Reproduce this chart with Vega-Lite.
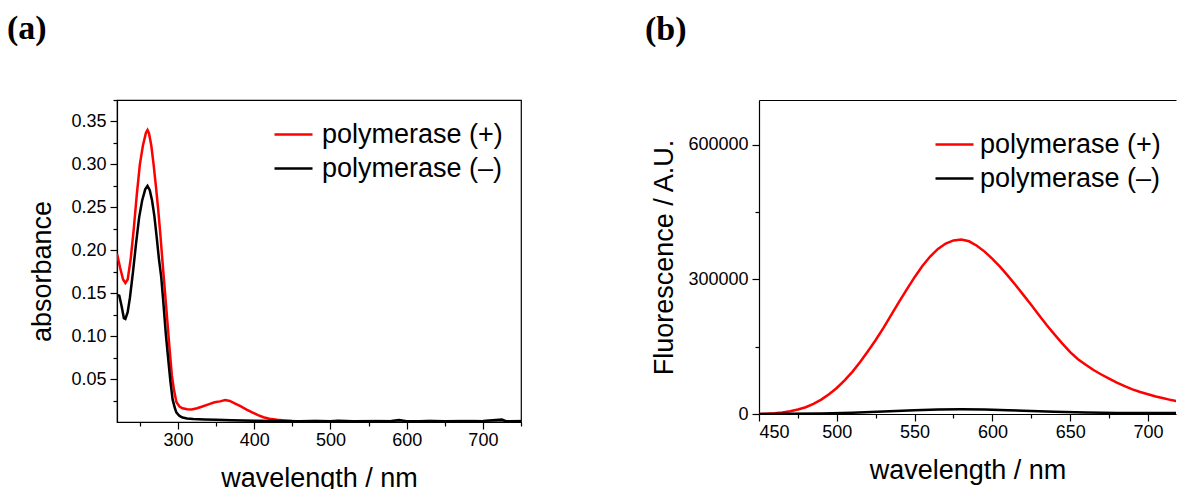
{
  "$schema": "https://vega.github.io/schema/vega-lite/v6.json",
  "padding": {"left": 6, "top": 11, "right": 0, "bottom": 0},
  "spacing": 121,
  "config": {
    "font": "Liberation Sans",
    "view": {"stroke": "black", "strokeWidth": 1.2},
    "axis": {
      "grid": false,
      "domainColor": "black",
      "domainWidth": 1.2,
      "tickColor": "black",
      "tickWidth": 1.2,
      "tickSize": 7,
      "labelColor": "black",
      "labelFont": "Liberation Sans",
      "labelFontSize": 18,
      "titleColor": "black",
      "titleFont": "Liberation Sans",
      "titleFontSize": 27,
      "titleFontWeight": "normal"
    },
    "axisX": {"labelPadding": 2, "titlePadding": 16},
    "axisY": {"labelPadding": 4},
    "legend": {
      "orient": "none",
      "title": null,
      "symbolType": "stroke",
      "symbolSize": 1444,
      "symbolStrokeWidth": 2.5,
      "labelFont": "Liberation Sans",
      "labelFontSize": 27,
      "labelColor": "black",
      "labelLimit": 0,
      "padding": 0,
      "rowPadding": -4
    },
    "title": {
      "font": "Liberation Serif",
      "fontSize": 34,
      "fontWeight": "bold",
      "color": "black",
      "anchor": "start",
      "frame": "bounds",
      "baseline": "alphabetic",
      "offset": 53
    }
  },
  "resolve": {"scale": {"color": "independent"}, "legend": {"color": "independent"}},
  "hconcat": [
    {
      "title": {"text": "(a)", "dx": -22},
      "width": 404,
      "height": 322,
      "data": {"values": [
        {"wl": 220, "v": 0.196, "s": "polymerase (+)"},
        {"wl": 224, "v": 0.180, "s": "polymerase (+)"},
        {"wl": 228, "v": 0.166, "s": "polymerase (+)"},
        {"wl": 231, "v": 0.162, "s": "polymerase (+)"},
        {"wl": 234, "v": 0.166, "s": "polymerase (+)"},
        {"wl": 238, "v": 0.190, "s": "polymerase (+)"},
        {"wl": 242, "v": 0.225, "s": "polymerase (+)"},
        {"wl": 246, "v": 0.265, "s": "polymerase (+)"},
        {"wl": 250, "v": 0.300, "s": "polymerase (+)"},
        {"wl": 254, "v": 0.322, "s": "polymerase (+)"},
        {"wl": 258, "v": 0.337, "s": "polymerase (+)"},
        {"wl": 260, "v": 0.340, "s": "polymerase (+)"},
        {"wl": 262, "v": 0.336, "s": "polymerase (+)"},
        {"wl": 265, "v": 0.322, "s": "polymerase (+)"},
        {"wl": 268, "v": 0.300, "s": "polymerase (+)"},
        {"wl": 271, "v": 0.275, "s": "polymerase (+)"},
        {"wl": 274, "v": 0.248, "s": "polymerase (+)"},
        {"wl": 277, "v": 0.217, "s": "polymerase (+)"},
        {"wl": 280, "v": 0.183, "s": "polymerase (+)"},
        {"wl": 283, "v": 0.151, "s": "polymerase (+)"},
        {"wl": 286, "v": 0.118, "s": "polymerase (+)"},
        {"wl": 289, "v": 0.085, "s": "polymerase (+)"},
        {"wl": 292, "v": 0.054, "s": "polymerase (+)"},
        {"wl": 295, "v": 0.036, "s": "polymerase (+)"},
        {"wl": 298, "v": 0.023, "s": "polymerase (+)"},
        {"wl": 302, "v": 0.018, "s": "polymerase (+)"},
        {"wl": 306, "v": 0.016, "s": "polymerase (+)"},
        {"wl": 312, "v": 0.0148, "s": "polymerase (+)"},
        {"wl": 318, "v": 0.0146, "s": "polymerase (+)"},
        {"wl": 325, "v": 0.016, "s": "polymerase (+)"},
        {"wl": 332, "v": 0.018, "s": "polymerase (+)"},
        {"wl": 340, "v": 0.0205, "s": "polymerase (+)"},
        {"wl": 348, "v": 0.023, "s": "polymerase (+)"},
        {"wl": 355, "v": 0.024, "s": "polymerase (+)"},
        {"wl": 362, "v": 0.0255, "s": "polymerase (+)"},
        {"wl": 368, "v": 0.0245, "s": "polymerase (+)"},
        {"wl": 375, "v": 0.0215, "s": "polymerase (+)"},
        {"wl": 382, "v": 0.0185, "s": "polymerase (+)"},
        {"wl": 390, "v": 0.0145, "s": "polymerase (+)"},
        {"wl": 398, "v": 0.011, "s": "polymerase (+)"},
        {"wl": 405, "v": 0.008, "s": "polymerase (+)"},
        {"wl": 412, "v": 0.0055, "s": "polymerase (+)"},
        {"wl": 420, "v": 0.0038, "s": "polymerase (+)"},
        {"wl": 430, "v": 0.0025, "s": "polymerase (+)"},
        {"wl": 440, "v": 0.0018, "s": "polymerase (+)"},
        {"wl": 450, "v": 0.0012, "s": "polymerase (+)"},
        {"wl": 460, "v": 0.001, "s": "polymerase (+)"},
        {"wl": 480, "v": 0.0014, "s": "polymerase (+)"},
        {"wl": 500, "v": 0.0008, "s": "polymerase (+)"},
        {"wl": 510, "v": 0.0016, "s": "polymerase (+)"},
        {"wl": 530, "v": 0.0009, "s": "polymerase (+)"},
        {"wl": 560, "v": 0.0012, "s": "polymerase (+)"},
        {"wl": 590, "v": 0.001, "s": "polymerase (+)"},
        {"wl": 610, "v": 0.0005, "s": "polymerase (+)"},
        {"wl": 630, "v": 0.0014, "s": "polymerase (+)"},
        {"wl": 650, "v": 0.0008, "s": "polymerase (+)"},
        {"wl": 670, "v": 0.0013, "s": "polymerase (+)"},
        {"wl": 690, "v": 0.0011, "s": "polymerase (+)"},
        {"wl": 700, "v": 0.0009, "s": "polymerase (+)"},
        {"wl": 720, "v": 0.0012, "s": "polymerase (+)"},
        {"wl": 735, "v": 0.001, "s": "polymerase (+)"},
        {"wl": 750, "v": 0.0012, "s": "polymerase (+)"},
        {"wl": 220, "v": 0.148, "s": "polymerase (–)"},
        {"wl": 223, "v": 0.147, "s": "polymerase (–)"},
        {"wl": 226, "v": 0.135, "s": "polymerase (–)"},
        {"wl": 229, "v": 0.121, "s": "polymerase (–)"},
        {"wl": 231, "v": 0.12, "s": "polymerase (–)"},
        {"wl": 234, "v": 0.128, "s": "polymerase (–)"},
        {"wl": 237, "v": 0.145, "s": "polymerase (–)"},
        {"wl": 241, "v": 0.175, "s": "polymerase (–)"},
        {"wl": 245, "v": 0.208, "s": "polymerase (–)"},
        {"wl": 249, "v": 0.238, "s": "polymerase (–)"},
        {"wl": 253, "v": 0.258, "s": "polymerase (–)"},
        {"wl": 257, "v": 0.271, "s": "polymerase (–)"},
        {"wl": 260, "v": 0.275, "s": "polymerase (–)"},
        {"wl": 263, "v": 0.27, "s": "polymerase (–)"},
        {"wl": 266, "v": 0.258, "s": "polymerase (–)"},
        {"wl": 269, "v": 0.24, "s": "polymerase (–)"},
        {"wl": 272, "v": 0.216, "s": "polymerase (–)"},
        {"wl": 275, "v": 0.19, "s": "polymerase (–)"},
        {"wl": 278, "v": 0.169, "s": "polymerase (–)"},
        {"wl": 281, "v": 0.137, "s": "polymerase (–)"},
        {"wl": 284, "v": 0.103, "s": "polymerase (–)"},
        {"wl": 287, "v": 0.075, "s": "polymerase (–)"},
        {"wl": 290, "v": 0.048, "s": "polymerase (–)"},
        {"wl": 293, "v": 0.026, "s": "polymerase (–)"},
        {"wl": 296, "v": 0.016, "s": "polymerase (–)"},
        {"wl": 298, "v": 0.011, "s": "polymerase (–)"},
        {"wl": 302, "v": 0.007, "s": "polymerase (–)"},
        {"wl": 306, "v": 0.0052, "s": "polymerase (–)"},
        {"wl": 312, "v": 0.0042, "s": "polymerase (–)"},
        {"wl": 320, "v": 0.0035, "s": "polymerase (–)"},
        {"wl": 335, "v": 0.003, "s": "polymerase (–)"},
        {"wl": 350, "v": 0.0025, "s": "polymerase (–)"},
        {"wl": 370, "v": 0.002, "s": "polymerase (–)"},
        {"wl": 400, "v": 0.0015, "s": "polymerase (–)"},
        {"wl": 430, "v": 0.0012, "s": "polymerase (–)"},
        {"wl": 460, "v": 0.001, "s": "polymerase (–)"},
        {"wl": 500, "v": 0.0009, "s": "polymerase (–)"},
        {"wl": 540, "v": 0.0008, "s": "polymerase (–)"},
        {"wl": 580, "v": 0.0012, "s": "polymerase (–)"},
        {"wl": 590, "v": 0.0022, "s": "polymerase (–)"},
        {"wl": 600, "v": 0.001, "s": "polymerase (–)"},
        {"wl": 640, "v": 0.0008, "s": "polymerase (–)"},
        {"wl": 680, "v": 0.001, "s": "polymerase (–)"},
        {"wl": 700, "v": 0.0012, "s": "polymerase (–)"},
        {"wl": 725, "v": 0.0028, "s": "polymerase (–)"},
        {"wl": 730, "v": 0.001, "s": "polymerase (–)"},
        {"wl": 750, "v": 0.0008, "s": "polymerase (–)"}
      ]},
      "layer": [
        {
          "mark": {"type": "line", "strokeWidth": 2.5, "clip": true},
          "encoding": {
            "x": {"field": "wl", "type": "quantitative",
              "scale": {"domain": [220, 750], "nice": false, "zero": false},
              "axis": {"orient": "bottom", "values": [300, 400, 500, 600, 700], "title": "wavelength / nm"}},
            "y": {"field": "v", "type": "quantitative",
              "scale": {"domain": [0, 0.375], "nice": false},
              "axis": {"orient": "left", "values": [0.05, 0.1, 0.15, 0.2, 0.25, 0.3, 0.35], "format": ".2f", "title": "absorbance", "titlePadding": 14, "titleY": 171}},
            "color": {"field": "s", "type": "nominal",
              "scale": {"domain": ["polymerase (+)", "polymerase (–)"], "range": ["#ff0000", "#000000"]},
              "legend": {"legendX": 156, "legendY": 14, "labelOffset": 8}}
          }
        },
        {
          "mark": {"type": "line", "opacity": 0},
          "encoding": {
            "x": {"field": "wl", "type": "quantitative",
              "axis": {"orient": "bottom", "values": [250, 350, 450, 550, 650, 750], "labels": false, "domain": false, "tickSize": 4, "title": null, "minExtent": 0}},
            "y": {"field": "v", "type": "quantitative",
              "axis": {"orient": "left", "values": [0.025, 0.075, 0.125, 0.175, 0.225, 0.275, 0.325, 0.375], "labels": false, "domain": false, "tickSize": 4, "title": null, "minExtent": 0}},
            "detail": {"field": "s"}
          }
        }
      ],
      "resolve": {"axis": {"x": "independent", "y": "independent"}}
    },
    {
      "title": {"text": "(b)", "dx": -6},
      "width": 417,
      "height": 314,
      "view": {"stroke": null},
      "data": {"values": [
        {"wl": 450, "v": 0, "s": "polymerase (+)"},
        {"wl": 455, "v": 800, "s": "polymerase (+)"},
        {"wl": 460, "v": 1800, "s": "polymerase (+)"},
        {"wl": 465, "v": 3300, "s": "polymerase (+)"},
        {"wl": 470, "v": 6000, "s": "polymerase (+)"},
        {"wl": 475, "v": 10000, "s": "polymerase (+)"},
        {"wl": 480, "v": 15000, "s": "polymerase (+)"},
        {"wl": 485, "v": 22500, "s": "polymerase (+)"},
        {"wl": 490, "v": 32000, "s": "polymerase (+)"},
        {"wl": 495, "v": 44000, "s": "polymerase (+)"},
        {"wl": 500, "v": 58000, "s": "polymerase (+)"},
        {"wl": 505, "v": 75000, "s": "polymerase (+)"},
        {"wl": 510, "v": 94000, "s": "polymerase (+)"},
        {"wl": 515, "v": 116000, "s": "polymerase (+)"},
        {"wl": 520, "v": 140000, "s": "polymerase (+)"},
        {"wl": 525, "v": 165000, "s": "polymerase (+)"},
        {"wl": 530, "v": 192000, "s": "polymerase (+)"},
        {"wl": 535, "v": 221000, "s": "polymerase (+)"},
        {"wl": 540, "v": 250000, "s": "polymerase (+)"},
        {"wl": 545, "v": 278000, "s": "polymerase (+)"},
        {"wl": 550, "v": 305000, "s": "polymerase (+)"},
        {"wl": 555, "v": 330000, "s": "polymerase (+)"},
        {"wl": 560, "v": 351000, "s": "polymerase (+)"},
        {"wl": 565, "v": 368000, "s": "polymerase (+)"},
        {"wl": 570, "v": 380000, "s": "polymerase (+)"},
        {"wl": 575, "v": 387000, "s": "polymerase (+)"},
        {"wl": 580, "v": 389000, "s": "polymerase (+)"},
        {"wl": 585, "v": 385000, "s": "polymerase (+)"},
        {"wl": 590, "v": 375000, "s": "polymerase (+)"},
        {"wl": 595, "v": 362000, "s": "polymerase (+)"},
        {"wl": 600, "v": 346000, "s": "polymerase (+)"},
        {"wl": 605, "v": 328000, "s": "polymerase (+)"},
        {"wl": 610, "v": 308000, "s": "polymerase (+)"},
        {"wl": 615, "v": 287000, "s": "polymerase (+)"},
        {"wl": 620, "v": 265000, "s": "polymerase (+)"},
        {"wl": 625, "v": 243000, "s": "polymerase (+)"},
        {"wl": 630, "v": 220000, "s": "polymerase (+)"},
        {"wl": 635, "v": 198000, "s": "polymerase (+)"},
        {"wl": 640, "v": 177000, "s": "polymerase (+)"},
        {"wl": 645, "v": 157000, "s": "polymerase (+)"},
        {"wl": 650, "v": 138000, "s": "polymerase (+)"},
        {"wl": 655, "v": 122000, "s": "polymerase (+)"},
        {"wl": 660, "v": 110000, "s": "polymerase (+)"},
        {"wl": 665, "v": 98000, "s": "polymerase (+)"},
        {"wl": 670, "v": 88000, "s": "polymerase (+)"},
        {"wl": 675, "v": 79000, "s": "polymerase (+)"},
        {"wl": 680, "v": 70000, "s": "polymerase (+)"},
        {"wl": 685, "v": 62000, "s": "polymerase (+)"},
        {"wl": 690, "v": 55000, "s": "polymerase (+)"},
        {"wl": 695, "v": 49000, "s": "polymerase (+)"},
        {"wl": 700, "v": 44000, "s": "polymerase (+)"},
        {"wl": 705, "v": 39000, "s": "polymerase (+)"},
        {"wl": 710, "v": 35000, "s": "polymerase (+)"},
        {"wl": 715, "v": 31000, "s": "polymerase (+)"},
        {"wl": 720, "v": 28000, "s": "polymerase (+)"},
        {"wl": 450, "v": 0, "s": "polymerase (–)"},
        {"wl": 470, "v": 300, "s": "polymerase (–)"},
        {"wl": 490, "v": 1200, "s": "polymerase (–)"},
        {"wl": 510, "v": 3000, "s": "polymerase (–)"},
        {"wl": 530, "v": 5500, "s": "polymerase (–)"},
        {"wl": 550, "v": 8500, "s": "polymerase (–)"},
        {"wl": 565, "v": 10000, "s": "polymerase (–)"},
        {"wl": 580, "v": 10500, "s": "polymerase (–)"},
        {"wl": 595, "v": 10000, "s": "polymerase (–)"},
        {"wl": 610, "v": 8500, "s": "polymerase (–)"},
        {"wl": 625, "v": 6500, "s": "polymerase (–)"},
        {"wl": 640, "v": 4800, "s": "polymerase (–)"},
        {"wl": 660, "v": 3200, "s": "polymerase (–)"},
        {"wl": 680, "v": 2500, "s": "polymerase (–)"},
        {"wl": 700, "v": 2300, "s": "polymerase (–)"},
        {"wl": 720, "v": 2500, "s": "polymerase (–)"}
      ]},
      "layer": [
        {
          "mark": {"type": "line", "strokeWidth": 2.5, "clip": true},
          "encoding": {
            "x": {"field": "wl", "type": "quantitative",
              "scale": {"domain": [450, 718], "nice": false, "zero": false},
              "axis": {"orient": "bottom", "values": [450, 500, 550, 600, 650, 700], "title": "wavelength / nm"}},
            "y": {"field": "v", "type": "quantitative",
              "scale": {"domain": [0, 700000], "nice": false},
              "axis": {"orient": "left", "values": [0, 300000, 600000], "format": "d", "title": "Fluorescence / A.U.", "titlePadding": 9}},
            "color": {"field": "s", "type": "nominal",
              "scale": {"domain": ["polymerase (+)", "polymerase (–)"], "range": ["#ff0000", "#000000"]},
              "legend": {"legendX": 175, "legendY": 24, "labelOffset": 5}}
          }
        },
        {
          "mark": {"type": "line", "opacity": 0},
          "encoding": {
            "x": {"field": "wl", "type": "quantitative",
              "axis": {"orient": "bottom", "values": [475, 525, 575, 625, 675], "labels": false, "domain": false, "tickSize": 4, "title": null, "minExtent": 0}},
            "y": {"field": "v", "type": "quantitative",
              "axis": {"orient": "left", "values": [150000, 450000], "labels": false, "domain": false, "tickSize": 4, "title": null, "minExtent": 0}},
            "detail": {"field": "s"}
          }
        },
        {
          "mark": {"type": "line", "opacity": 0},
          "encoding": {
            "x": {"field": "wl", "type": "quantitative",
              "axis": {"orient": "top", "labels": false, "ticks": false, "domain": true, "title": null, "minExtent": 0, "maxExtent": 0, "labelPadding": 0}},
            "detail": {"field": "s"}
          }
        }
      ],
      "resolve": {"axis": {"x": "independent", "y": "independent"}}
    }
  ]
}
